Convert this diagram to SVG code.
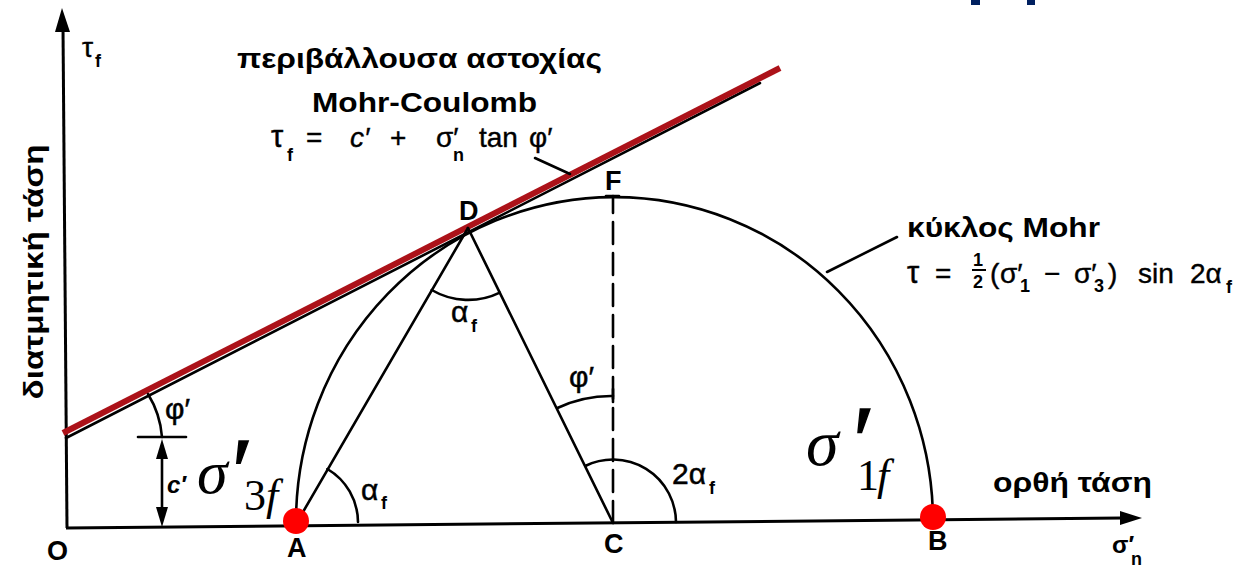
<svg xmlns="http://www.w3.org/2000/svg" width="1246" height="567" viewBox="0 0 1246 567">
<style>
.ln{stroke:#000;fill:none;stroke-width:2.6;stroke-linecap:round}
.ax{stroke:#000;fill:none;stroke-width:3}
.s{font-family:"Liberation Sans",Arial,sans-serif;fill:#000}
.b{font-weight:bold}
.lbl{font-family:"Liberation Sans",Arial,sans-serif;font-weight:bold;font-size:27px;fill:#000}
.ang{font-family:"Liberation Sans",Arial,sans-serif;font-size:30px;fill:#000;stroke:#000;stroke-width:0.5}
.fm{font-family:"Liberation Sans",Arial,sans-serif;font-size:28px;fill:#000;stroke:#000;stroke-width:0.4}
.sub{font-family:"Liberation Sans",Arial,sans-serif;font-weight:bold;font-size:18px;fill:#000}
.tx{font-family:"Liberation Serif","Times New Roman",serif;fill:#000}
.pr{font-family:"Liberation Serif","Times New Roman",serif;fill:#000;stroke:#000;stroke-width:1.4}
.dot{fill:#ff0000}
</style>
<rect width="1246" height="567" fill="#fff"/>
<rect x="971" y="0" width="9" height="5" fill="#002060"/>
<rect x="1027" y="0" width="8" height="5" fill="#002060"/>
<g id="axes">
<line class="ax" x1="67" y1="528" x2="63" y2="28"/>
<polygon points="62,8 55,32 70,32" fill="#000"/>
<line class="ax" x1="66" y1="528" x2="1122" y2="518"/>
<polygon points="1142,518 1120,511 1120,525" fill="#000"/>
</g>
<g id="connectors">
<line class="ln" x1="66" y1="438" x2="760" y2="83"/>
<line x1="63" y1="433" x2="780" y2="68" stroke="#ac1219" stroke-width="6"/>
<path class="ln" d="M296 524 A318.5 325 0 0 1 933 520" stroke-width="3"/>
<line class="ln" x1="468" y1="228" x2="296" y2="524"/>
<line class="ln" x1="468" y1="228" x2="613" y2="523"/>
<line class="ln" x1="613" y1="523" x2="613" y2="196" stroke-dasharray="22 9" stroke-linecap="butt"/>
<line class="ln" x1="606" y1="196" x2="619" y2="196"/>
<path class="ln" d="M358 522 A62 62 0 0 0 327.4 469"/>
<path class="ln" d="M431.7 290 A72 72 0 0 0 499.8 292.6"/>
<path class="ln" d="M557.4 408 A126 126 0 0 1 613 396"/>
<line class="ln" x1="613" y1="389" x2="613" y2="402"/>
<path class="ln" d="M585.2 466 A63 63 0 0 1 676 522"/>
<path class="ln" d="M148 394 A96 96 0 0 1 162 437"/>
<line class="ln" x1="138" y1="437" x2="186" y2="437" stroke-width="2"/>
<line class="ln" x1="162" y1="455" x2="162" y2="508"/>
<polygon points="162,439 156,459 168,459" fill="#000"/>
<polygon points="162,527 156,507 168,507" fill="#000"/>
<line class="ln" x1="827" y1="272" x2="897" y2="237" stroke-width="2.2"/>
<line class="ln" x1="535" y1="158" x2="570" y2="174" stroke-width="2"/>
</g>
<g id="points">
<circle class="dot" cx="296" cy="521" r="13"/>
<circle class="dot" cx="933" cy="517" r="13"/>
</g>
<g id="labels">
<text class="lbl" x="47" y="560">O</text>
<text class="lbl" x="287" y="557">A</text>
<text class="lbl" x="604" y="553">C</text>
<text class="lbl" x="928" y="550">B</text>
<text class="lbl" x="459" y="220">D</text>
<text class="lbl" x="605" y="190">F</text>
</g>
<g id="axis-titles">
<text class="fm" x="82" y="57" font-size="32">τ</text><text class="sub" x="95" y="67">f</text>
<text class="s b" font-size="28" text-anchor="middle" transform="translate(43 272) rotate(-90)" textLength="255" lengthAdjust="spacingAndGlyphs">διατμητική τάση</text>
<text class="s b" x="993" y="492" font-size="27" textLength="159" lengthAdjust="spacingAndGlyphs">ορθή τάση</text>
<text class="s b" x="1112" y="553" font-size="24">σ′</text><text class="sub" x="1131" y="565">n</text>
</g>
<g id="envelope-label">
<text class="s b" x="237" y="68" font-size="27" textLength="365" lengthAdjust="spacingAndGlyphs">περιβάλλουσα αστοχίας</text>
<text class="s b" x="312" y="112" font-size="28" textLength="225" lengthAdjust="spacingAndGlyphs">Mohr-Coulomb</text>
<g class="fm">
<text x="271" y="147" font-size="31">τ</text>
<text x="306" y="147">=</text>
<text x="350" y="147" font-style="italic">c′</text>
<text x="390" y="147">+</text>
<text x="436" y="147">σ′</text>
<text x="479" y="147">tan</text>
<text x="529" y="147">φ′</text>
</g>
<text class="sub" x="287" y="161">f</text>
<text class="sub" x="453" y="161">n</text>
</g>
<g id="mohr-label">
<text class="s b" x="907" y="237" font-size="27" textLength="193" lengthAdjust="spacingAndGlyphs">κύκλος Mohr</text>
<g class="fm">
<text x="907" y="283" font-size="31">τ</text>
<text x="935" y="283">=</text>
<text x="990" y="283">(</text>
<text x="1000" y="283">σ′</text>
<text x="1044" y="283">−</text>
<text x="1074" y="283">σ′</text>
<text x="1108" y="283">)</text>
<text x="1138" y="283">sin</text>
<text x="1190" y="283">2α</text>
</g>
<text class="sub" x="973" y="266" font-size="17">1</text>
<line x1="972" y1="270" x2="986" y2="270" stroke="#000" stroke-width="2"/>
<text class="sub" x="973" y="288" font-size="17">2</text>
<text class="sub" x="1020" y="292">1</text>
<text class="sub" x="1094" y="292">3</text>
<text class="sub" x="1226" y="293">f</text>
</g>
<g id="angle-labels">
<text class="ang" x="165" y="419" font-size="28">φ′</text>
<text class="s b" x="167" y="493" font-size="24" font-style="italic">c′</text>
<text class="ang" x="361" y="500">α</text><text class="sub" x="381" y="509">f</text>
<text class="ang" x="451" y="322">α</text><text class="sub" x="471" y="332">f</text>
<text class="ang" x="569" y="387">φ′</text>
<text class="ang" x="672" y="484">2α</text><text class="sub" x="709" y="494">f</text>
</g>
<g id="stress-labels">
<text class="tx" x="197" y="493" font-size="62" font-style="italic">σ</text>
<text class="pr" x="232" y="504" font-size="96">′</text>
<text class="tx" x="244" y="510" font-size="44">3</text>
<text class="tx" x="266" y="510" font-size="44" font-style="italic">f</text>
<text class="tx" x="806" y="465" font-size="66" font-style="italic">σ</text>
<text class="pr" x="853" y="474" font-size="100">′</text>
<text class="tx" x="857" y="490" font-size="44">1</text>
<text class="tx" x="877" y="490" font-size="44" font-style="italic">f</text>
</g>
</svg>
